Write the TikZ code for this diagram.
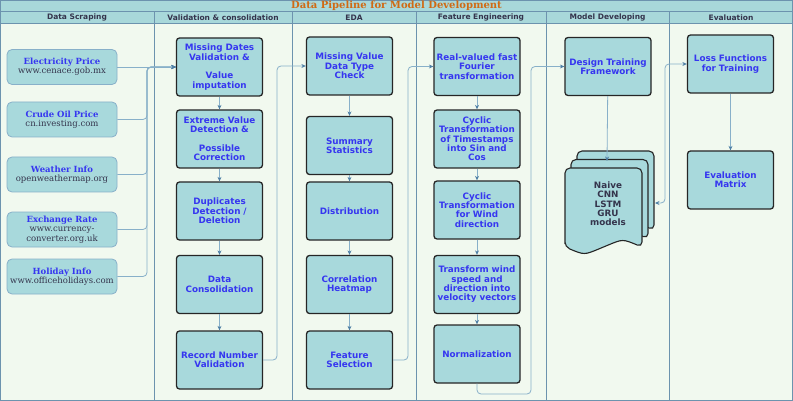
\documentclass[tikz,border=0pt]{standalone}
\usepackage{fontspec}
\setmainfont{DejaVu Serif}
\setsansfont{DejaVu Sans}
\usepackage{xcolor}
\usetikzlibrary{arrows.meta}
\definecolor{lane-bg}{HTML}{F1F9EF}
\definecolor{band}{HTML}{A8D8DA}
\definecolor{box-fill}{HTML}{A8D9DC}
\definecolor{lane-edge}{HTML}{6C93AE}
\definecolor{link}{HTML}{88B0C9}
\definecolor{link-tip}{HTML}{4F80A6}
\definecolor{step-text}{HTML}{3636F0}
\definecolor{dark-text}{HTML}{34344C}
\definecolor{title-text}{HTML}{D06A14}
\tikzset{
    step-box/.style = {draw=black!85, fill=box-fill, line width=1.3pt, rectangle, rounded corners=3pt, minimum width=85pt, minimum height=58pt, inner sep=0pt, text width=86pt, align=center, font=\sffamily\bfseries\fontsize{8.8}{9.3}\selectfont, text=step-text},
    source-box/.style = {draw=link, fill=box-fill, line width=0.8pt, rectangle, rounded corners=5pt, minimum width=108pt, minimum height=35pt, inner sep=0pt, text width=110pt, align=center, font=\fontsize{8.5}{9.4}\selectfont, text=dark-text},
    lane-title/.style = {font=\sffamily\bfseries\fontsize{7.5}{8}\selectfont, text=dark-text},
    doc-page/.style = {draw=black!85, fill=box-fill, line width=1.1pt, rounded corners=5pt},
    flow-line/.style = {draw=link, line width=0.8pt, rounded corners=4pt, -{Stealth[length=4.5pt, width=4pt, color=link-tip]}},
}

\begin{document}
\begin{tikzpicture}[x=1pt, y=-1pt]
\useasboundingbox (0,0) rectangle (793,401);
% lanes
\fill[lane-bg] (0,0) rectangle (793,401);
\fill[band] (0,0) rectangle (793,23.3);
\draw[lane-edge, line width=0.8pt] (0.5,0.5) rectangle (792.5,400.5);
\draw[lane-edge, line width=0.8pt] (0,11.5) -- (793,11.5) (0,23.3) -- (793,23.3);
\foreach \x in {154,292,416,546,669}
    \draw[lane-edge, line width=0.8pt] (\x,11.5) -- (\x,401);
\node[font=\bfseries\fontsize{10}{11}\selectfont, text=title-text] (title) at (396.5,6) {Data Pipeline for Model Development};
\foreach \x/\name in {77/Data Scraping, 223/Validation \& consolidation, 354/EDA, 481/Feature Engineering, 607.5/Model Developing, 731/Evaluation}
    \node[lane-title] at (\x,17.6) {\name};

% data scraping
\node[source-box] (elec) at (62,67) {\textcolor{step-text}{\bfseries Electricity Price}\\www.cenace.gob.mx};
\node[source-box] (oil) at (62,119.5) {\textcolor{step-text}{\bfseries Crude Oil Price}\\cn.investing.com};
\node[source-box] (weather) at (62,174.5) {\textcolor{step-text}{\bfseries Weather Info}\\openweathermap.org};
\node[source-box] (fx) at (62,229.5) {\textcolor{step-text}{\bfseries Exchange Rate}\\www.currency-\\converter.org.uk};
\node[source-box] (holiday) at (62,276.5) {\textcolor{step-text}{\bfseries Holiday Info}\\www.officeholidays.com};

% validation & consolidation
\node[step-box] (md) at (219.5,67) {Missing Dates\\Validation \&\\[9.3pt]Value\\imputation};
\node[step-box] (ev) at (219.5,139) {Extreme Value\\Detection \&\\[9.3pt]Possible\\Correction};
\node[step-box] (dup) at (219.5,211) {Duplicates\\Detection /\\Deletion};
\node[step-box] (cons) at (219.5,284.5) {Data\\Consolidation};
\node[step-box] (rec) at (219.5,360) {Record Number\\Validation};

% EDA
\node[step-box] (mv) at (349.5,66) {Missing Value\\Data Type\\Check};
\node[step-box] (sum) at (349.5,145.5) {Summary\\Statistics};
\node[step-box] (dist) at (349.5,211) {Distribution};
\node[step-box] (corr) at (349.5,284.5) {Correlation\\Heatmap};
\node[step-box] (fsel) at (349.5,360) {Feature\\Selection};

% feature engineering
\node[step-box] (fft) at (477,66.5) {Real-valued fast\\Fourier\\transformation};
\node[step-box] (cts) at (477,139) {Cyclic\\Transformation\\of Timestamps\\into Sin and\\Cos};
\node[step-box] (cwd) at (477,210) {Cyclic\\Transformation\\for Wind\\direction};
\node[step-box] (vel) at (477,284.5) {Transform wind\\speed and\\direction into\\velocity vectors};
\node[step-box] (norm) at (477,354) {Normalization};

% model developing
\node[step-box] (dtf) at (608,66.5) {Design Training\\Framework};
\foreach \px/\py in {577/151, 571/159.5, 565/168}
    \filldraw[doc-page] (\px,\py+79) -- (\px,\py) -- (\px+77,\py) -- (\px+77,\py+79)
        .. controls (\px+57.75,\py+71) .. (\px+38.5,\py+79)
        .. controls (\px+19.25,\py+87) .. (\px,\py+79) -- cycle;
\node[align=center, font=\sffamily\bfseries\fontsize{8.8}{9.3}\selectfont, text=dark-text] (models) at (608,204) {Naive\\CNN\\LSTM\\GRU\\models};

% evaluation
\node[step-box] (loss) at (730.5,64) {Loss Functions\\for Training};
\node[step-box] (evm) at (730.5,180) {Evaluation\\Matrix};

% connectors
\coordinate (bus-a) at (147,0);
\coordinate (bus-b) at (277,0);
\coordinate (bus-c) at (408,0);
\coordinate (loop-d) at (531,394);
\coordinate (bus-f) at (665,0);
\coordinate (stack-top) at (607,161);
\coordinate (stack-right) at (655,203);
\draw[flow-line] (elec) -- (md);
\foreach \src in {oil, weather, fx, holiday}
    \draw[flow-line] (\src.east) -- (\src.east -| bus-a) |- (md.west);
\draw[flow-line] (md) -- (ev);
\draw[flow-line] (ev) -- (dup);
\draw[flow-line] (dup) -- (cons);
\draw[flow-line] (cons) -- (rec);
\draw[flow-line] (rec.east) -- (rec.east -| bus-b) |- (mv.west);
\draw[flow-line] (mv) -- (sum);
\draw[flow-line] (sum) -- (dist);
\draw[flow-line] (dist) -- (corr);
\draw[flow-line] (corr) -- (fsel);
\draw[flow-line] (fsel.east) -- (fsel.east -| bus-c) |- (fft.west);
\draw[flow-line] (fft) -- (cts);
\draw[flow-line] (cts) -- (cwd);
\draw[flow-line] (cwd) -- (vel);
\draw[flow-line] (vel) -- (norm);
\draw[flow-line] (norm.south) |- (loop-d) |- (dtf.west);
\draw[flow-line] (dtf) -- (stack-top);
\draw[flow-line, {Stealth[length=4.5pt, width=4pt, color=link-tip]}-{Stealth[length=4.5pt, width=4pt, color=link-tip]}] (stack-right) -- (stack-right -| bus-f) |- (loss.west);
\draw[flow-line] (loss) -- (evm);
\end{tikzpicture}
\end{document}
